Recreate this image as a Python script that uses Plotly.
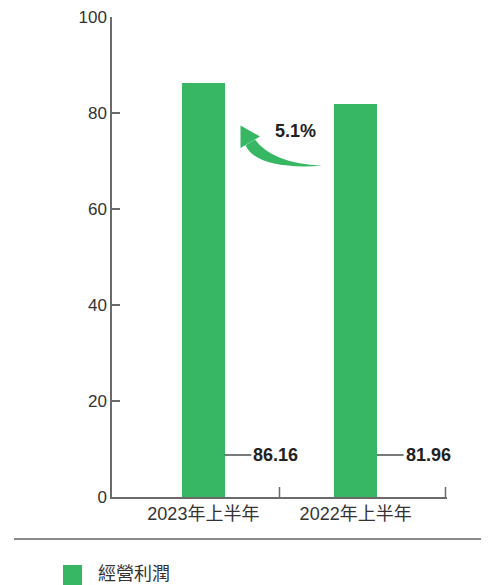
import plotly.graph_objects as go

categories = ["2023年上半年", "2022年上半年"]
values = [86.16, 81.96]
value_labels = ["86.16", "81.96"]
series_name = "經營利潤"
growth_label = "5.1%"
y_ticks = [0, 20, 40, 60, 80, 100]

GREEN = "#37B663"
AXIS = "#6b6b6b"
TEXT = "#333333"
DARK = "#222222"

OFF = 8  # page body margin
W, H = 489 - OFF, 585 - OFF
L, R, T, B = 112, 447, 17, 497  # plot area in screenshot pixels
BAR_W = 0.28


def px(x):
    return (x - L) / (R - L)


def py(y):
    return (B - y) / (B - T)


fig = go.Figure()
fig.add_trace(go.Bar(
    x=categories, y=values, width=BAR_W,
    marker=dict(color=GREEN, line=dict(width=0)),
    name=series_name, showlegend=False, hoverinfo="skip",
))

shapes = []
annotations = []

# value labels with leader lines
label_y = 8.75
for i, (v, lab) in enumerate(zip(values, value_labels)):
    x0 = i + BAR_W / 2
    x1 = x0 + 0.175
    shapes.append(dict(type="line", xref="x", yref="y", x0=x0, x1=x1,
                       y0=label_y, y1=label_y, line=dict(color=DARK, width=1.2)))
    annotations.append(dict(xref="x", yref="y", x=x1, y=label_y, text=f"<b>{lab}</b>",
                            showarrow=False, xanchor="left", yanchor="middle", xshift=0,
                            font=dict(size=18, color=DARK, family="Liberation Sans, Arial")))

# x-axis tick marks at category boundary and right end
for xv in [0.5, 1.59]:
    shapes.append(dict(type="line", xref="x", yref="paper", x0=xv, x1=xv,
                       y0=0, y1=py(487), line=dict(color=AXIS, width=1.5)))

# curved growth arrow (tapered body + head)
tip = (240.5, 125.5)
bl = (240.5, 148.0)
br = (260.0, 136.5)
b1 = (245.5, 145.2)
b2 = (255.0, 139.4)
tail = (322.0, 165.8)
c_out = (257.0, 170.0)
c_in = (272.0, 163.0)


def P(p):
    return f"{px(p[0]):.5f},{py(p[1]):.5f}"


body = (f"M {P(b1)} Q {P(c_out)} {P(tail)} Q {P(c_in)} {P(b2)} Z")
head = f"M {P(tip)} L {P(bl)} L {P(br)} Z"
shapes.append(dict(type="path", xref="paper", yref="paper", path=body,
                   fillcolor=GREEN, line=dict(width=0)))
shapes.append(dict(type="path", xref="paper", yref="paper", path=head,
                   fillcolor=GREEN, line=dict(width=0)))
annotations.append(dict(xref="paper", yref="paper", x=px(295), y=py(130.5),
                        text=f"<b>{growth_label}</b>", showarrow=False,
                        xanchor="center", yanchor="middle",
                        font=dict(size=18, color=DARK, family="Liberation Sans, Arial")))

# separator line
shapes.append(dict(type="line", xref="paper", yref="paper", x0=px(14), x1=px(489),
                   y0=py(539), y1=py(539), line=dict(color="#8a8a8a", width=2)))

# legend
shapes.append(dict(type="rect", xref="paper", yref="paper", x0=px(63), x1=px(82),
                   y0=py(585), y1=py(565), fillcolor=GREEN, line=dict(width=0)))
annotations.append(dict(xref="paper", yref="paper", x=px(96), y=py(571.5),
                        text=series_name, showarrow=False,
                        xanchor="left", yanchor="middle",
                        font=dict(size=18, color=TEXT, family="Noto Sans CJK TC")))

fig.update_layout(
    width=W, height=H,
    margin=dict(l=L - OFF, r=489 - R, t=T - OFF, b=585 - B, pad=0, autoexpand=False),
    paper_bgcolor="white", plot_bgcolor="white",
    shapes=shapes, annotations=annotations,
    bargap=0,
    font=dict(family="Liberation Sans, Arial", color=TEXT),
)
fig.update_xaxes(
    type="category", range=[-0.6, 1.6], showline=True, linecolor=AXIS, linewidth=1.5,
    ticks="", showgrid=False, zeroline=False, automargin=False,
    tickfont=dict(size=18, color=TEXT, family="Liberation Sans, Noto Sans CJK TC"),
)
fig.update_yaxes(
    range=[0, 100], tickvals=y_ticks, showline=True, linecolor=AXIS, linewidth=1.5,
    ticks="inside", ticklen=8, tickcolor=AXIS, tickwidth=1.5,
    showgrid=False, zeroline=False, ticklabeloverflow="allow", automargin=False,
    tickfont=dict(size=17, color=TEXT, family="Liberation Sans, Arial"),
)

fig.write_html("out.html")
